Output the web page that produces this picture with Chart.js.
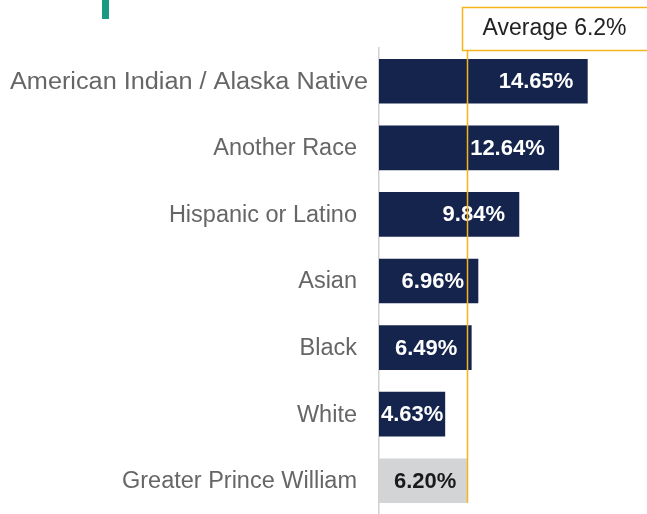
<!DOCTYPE html>
<html>
<head>
<meta charset="utf-8">
<script src="https://cdn.jsdelivr.net/npm/chart.js@4"></script>
<style>
  html, body { margin: 0; padding: 0; background: #fff; }
  #wrap { position: relative; width: 647px; height: 514px; }
</style>
</head>
<body>
<div id="wrap"><canvas id="barChart" width="647" height="514"></canvas></div>
<script>
const categories = [
    'American Indian / Alaska Native',
    'Another Race',
    'Hispanic or Latino',
    'Asian',
    'Black',
    'White',
    'Greater Prince William'
];
const rates = [14.65, 12.64, 9.84, 6.96, 6.49, 4.63, 6.20];
const valueLabels = ['14.65%', '12.64%', '9.84%', '6.96%', '6.49%', '4.63%', '6.20%'];
const average = 6.2;
const averageLabel = 'Average 6.2%';

const navy = '#14244c';
const grey = '#d3d4d6';
const gold = '#f5b41c';
const fontFamily = '"Liberation Sans", Arial, sans-serif';
const barColors = rates.map((v, i) => i === rates.length - 1 ? grey : navy);
const labelColors = rates.map((v, i) => i === rates.length - 1 ? '#1a1a1a' : '#ffffff');

// category names on the left of the axis
const categoryLabelPlugin = {
    id: 'categoryLabels',
    afterDraw(chart) {
        const ctx = chart.ctx;
        const y = chart.scales.y;
        ctx.save();
        ctx.font = '23.5px ' + fontFamily;
        ctx.fillStyle = '#666666';
        ctx.textBaseline = 'middle';
        ctx.textAlign = 'right';
        categories.forEach((name, i) => {
            const py = y.getPixelForTick(i) + 1;
            if (i === 0) {
                // the long first label is stretched across the full left margin
                const w = ctx.measureText(name).width;
                ctx.save();
                ctx.translate(368, py);
                ctx.scale(358 / w, 1);
                ctx.fillText(name, 0, 0);
                ctx.restore();
            } else {
                ctx.fillText(name, 357, py);
            }
        });
        ctx.restore();
    }
};

// value labels drawn inside the bars, near the right end
const valueLabelPlugin = {
    id: 'valueLabels',
    afterDatasetsDraw(chart) {
        const ctx = chart.ctx;
        const meta = chart.getDatasetMeta(0);
        const left = chart.chartArea.left;
        ctx.save();
        ctx.font = 'bold 22px ' + fontFamily;
        ctx.textBaseline = 'middle';
        ctx.textAlign = 'left';
        meta.data.forEach((bar, i) => {
            const text = valueLabels[i];
            const w = ctx.measureText(text).width;
            let x = bar.x - 14 - w;
            if (i === rates.length - 1) x = (left + bar.x) / 2 - w / 2 + 2;
            if (x < left + 2) x = left + 2;
            ctx.fillStyle = labelColors[i];
            ctx.fillText(text, x, bar.y + 1);
        });
        ctx.restore();
    }
};

// average line with its boxed label, and the small green mark at the top
const averagePlugin = {
    id: 'averageLine',
    afterDraw(chart) {
        const ctx = chart.ctx;
        const x = Math.round(chart.scales.x.getPixelForValue(average)) + 0.5;
        const meta = chart.getDatasetMeta(0);
        const last = meta.data[meta.data.length - 1];
        ctx.save();
        ctx.strokeStyle = gold;
        ctx.lineWidth = 1.5;
        ctx.beginPath();
        ctx.moveTo(x, 50);
        ctx.lineTo(x, last.y + last.height / 2);
        ctx.stroke();

        ctx.fillStyle = '#ffffff';
        ctx.fillRect(x - 5, 7, 660 - x, 43);
        ctx.strokeRect(x - 5, 7.5, 660 - x, 43);
        ctx.fillStyle = '#222222';
        ctx.font = '23px ' + fontFamily;
        ctx.textAlign = 'left';
        ctx.textBaseline = 'middle';
        ctx.fillText(averageLabel, x + 15, 29);

        ctx.fillStyle = '#1a9a80';
        ctx.fillRect(102, 0, 7, 19);
        ctx.restore();
    }
};

new Chart(document.getElementById('barChart'), {
    type: 'bar',
    data: {
        labels: categories,
        datasets: [{
            data: rates,
            backgroundColor: barColors,
            borderWidth: 0,
            barThickness: 44
        }]
    },
    options: {
        indexAxis: 'y',
        responsive: false,
        animation: false,
        layout: { padding: { top: 48, right: 12, bottom: -3, left: 0 } },
        plugins: {
            legend: { display: false },
            tooltip: { enabled: false }
        },
        scales: {
            x: {
                display: false,
                min: 0,
                max: 18
            },
            y: {
                afterFit(scale) { scale.width = 379; },
                grid: { display: false, drawTicks: false },
                border: { display: true, color: '#d0d0d0', width: 1.5 },
                ticks: { display: false }
            }
        }
    },
    plugins: [valueLabelPlugin, categoryLabelPlugin, averagePlugin]
});
</script>
</body>
</html>
